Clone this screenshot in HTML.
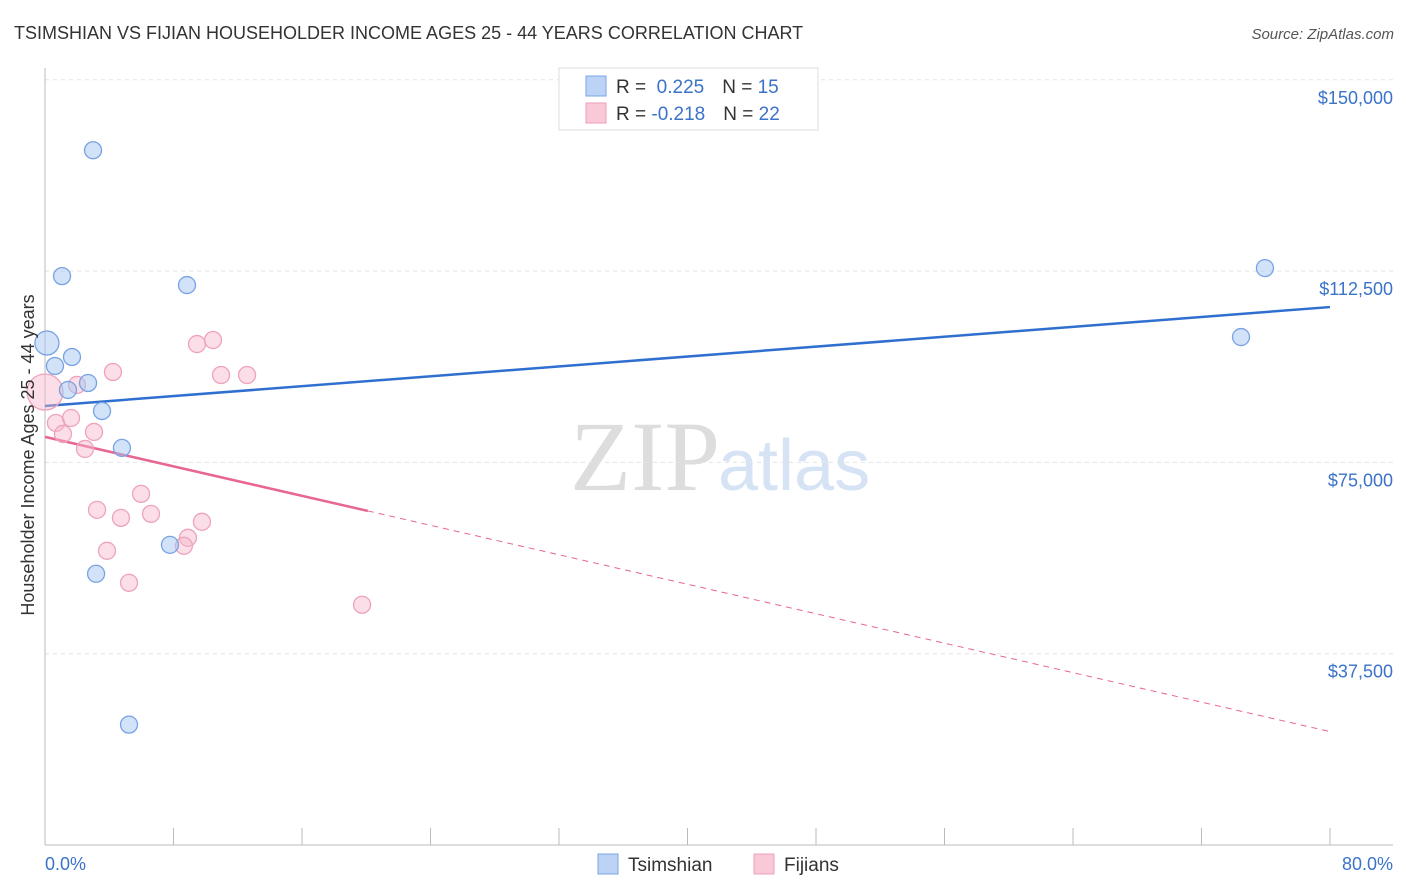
<!DOCTYPE html>
<html><head><meta charset="utf-8"><style>
body{margin:0;background:#fff;font-family:"Liberation Sans",sans-serif}
svg{display:block}
</style></head><body>
<svg width="1406" height="892" xmlns="http://www.w3.org/2000/svg" id="chart">
<text x="14" y="39" font-size="18" fill="#333">TSIMSHIAN VS FIJIAN HOUSEHOLDER INCOME AGES 25 - 44 YEARS CORRELATION CHART</text>
<text x="1394" y="39" font-size="15" fill="#555" font-style="italic" text-anchor="end">Source: ZipAtlas.com</text>
<text x="720" y="490" font-size="100" fill="#ddd" text-anchor="end" font-family="Liberation Serif">ZIP</text>
<text x="718" y="490" font-size="72" fill="#d6e3f5">atlas</text>
<g id="grid"></g>
<g id="axes"></g>
<g id="lines"></g>
<g id="pts"></g>
<text transform="translate(34,455) rotate(-90)" font-size="18" fill="#333" text-anchor="middle">Householder Income Ages 25 - 44 years</text>
<text x="45" y="870" font-size="18" fill="#3a73c9">0.0%</text>
<text x="1393" y="870" font-size="18" fill="#3a73c9" text-anchor="end">80.0%</text>
<g>
<rect x="559" y="68" width="259" height="62" fill="#fff" stroke="#ddd"/>
<rect x="586" y="76" width="20" height="20" fill="#bcd3f5" stroke="#7aa6e6"/>
<rect x="586" y="103" width="20" height="20" fill="#f9c9d7" stroke="#f0a0b8"/>
<text x="616" y="93" font-size="19" fill="#333">R = <tspan fill="#3a73c9">&#160;0.225</tspan><tspan dx="18">N = </tspan><tspan fill="#3a73c9">15</tspan></text>
<text x="616" y="120" font-size="19" fill="#333">R = <tspan fill="#3a73c9">-0.218</tspan><tspan dx="18">N = </tspan><tspan fill="#3a73c9">22</tspan></text>
</g>
<g>
<rect x="598" y="854" width="20" height="20" fill="#bcd3f5" stroke="#7aa6e6"/>
<text x="628" y="871" font-size="19" fill="#333">Tsimshian</text>
<rect x="754" y="854" width="20" height="20" fill="#f9c9d7" stroke="#f0a0b8"/>
<text x="784" y="871" font-size="19" fill="#333">Fijians</text>
</g>
</svg>
<script>
const yTicks=[37500,75000,112500,150000];
const yTickLabels=["$37,500","$75,000","$112,500","$150,000"];
const blueX=[0.12,0.62,1.68,2.68,1.43,3.55,4.79,2.99,1.06,8.84,7.78,3.18,5.23,75.95,74.46];
const blueY=[98400,93900,95660,90570,89200,85080,77840,136190,111520,109760,58840,53170,23600,113090,99570];
const pinkX=[0,1.99,4.23,0.68,1.62,1.12,3.05,2.49,9.46,10.46,10.96,12.58,5.98,3.24,6.6,4.73,9.77,8.9,8.65,3.86,5.23,19.74];
const pinkY=[88800,90180,92720,82730,83710,80580,80970,77640,98200,98990,92130,92130,68830,65700,64910,64130,63350,60220,58650,57670,51400,47100];
const blueTrend=[86060,105450];
const pinkTrend=[80000,22230];
const pinkSolidEnd=20.1;
const NS="http://www.w3.org/2000/svg";
const sx=v=>45+v/80*1285;
const sy=v=>845-v/37500*191.3;
function mk(t,a,p){const e=document.createElementNS(NS,t);for(const k in a)e.setAttribute(k,a[k]);p.appendChild(e);return e;}
const grid=document.getElementById('grid'),axes=document.getElementById('axes'),lines=document.getElementById('lines'),pts=document.getElementById('pts');
yTicks.forEach((t,i)=>{
 const g=mk('line',{x1:45,x2:1393,y1:sy(t),y2:sy(t),stroke:'#e4e4e4','stroke-dasharray':'4,4'},grid);
 
 
 const l=mk('text',{x:1393,y:sy(t)+24,'font-size':18,fill:'#3a73c9','text-anchor':'end'},grid);
 l.textContent=yTickLabels[i];
 
 
});
const ya=mk('line',{x1:45,x2:45,y1:68,y2:845,stroke:'#bbb'},axes);


const xa=mk('line',{x1:45,x2:1393,y1:845,y2:845,stroke:'#bbb'},axes);


for(let i=0;i<=10;i++){
 const t=mk('line',{x1:sx(i*8),x2:sx(i*8),y1:828,y2:845,stroke:'#bbb'},axes);
 
 
}
const bl=mk('line',{x1:sx(0),y1:sy(blueTrend[0]),x2:sx(80),y2:sy(blueTrend[1]),stroke:'#2f6fd0','stroke-width':2.5},lines);


const pv=x=>pinkTrend[0]+(pinkTrend[1]-pinkTrend[0])*x/80;
const pl=mk('line',{x1:sx(0),y1:sy(pv(0)),x2:sx(pinkSolidEnd),y2:sy(pv(pinkSolidEnd)),stroke:'#e8668f','stroke-width':2.5},lines);


const pd=mk('line',{x1:sx(pinkSolidEnd),y1:sy(pv(pinkSolidEnd)),x2:sx(80),y2:sy(pinkTrend[1]),stroke:'#e8668f','stroke-width':1,'stroke-dasharray':'6,5'},lines);


pinkX.forEach((x,i)=>{
 const c=mk('circle',{cx:sx(x),cy:sy(pinkY[i]),r:i==0?18:8.5,fill:'rgba(246,182,202,0.45)',stroke:'#eea3bb','stroke-width':1.3},pts);
 
 
});
blueX.forEach((x,i)=>{
 const c=mk('circle',{cx:sx(x),cy:sy(blueY[i]),r:i==0?12:8.5,fill:'rgba(165,198,242,0.5)',stroke:'#78a3e3','stroke-width':1.3},pts);
 
 
});
</script>
</body></html>
